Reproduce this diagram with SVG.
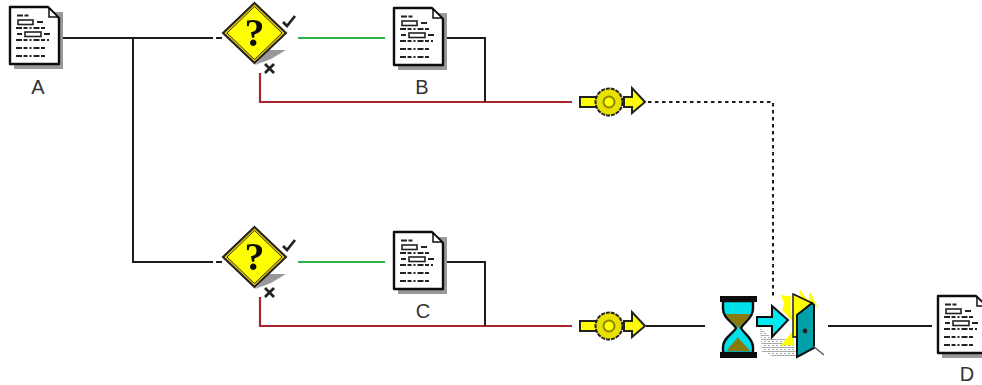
<svg xmlns="http://www.w3.org/2000/svg" width="982" height="385" viewBox="0 0 982 385">
<style>
.k{fill:none;stroke:#1c1c1c;stroke-width:2}
.g{fill:none;stroke:#2fb344;stroke-width:2}
.r{fill:none;stroke:#a8262c;stroke-width:2.200}
.d{fill:none;stroke:#1c1c1c;stroke-width:2;stroke-dasharray:3.500 3.500}
.l{font-family:"Liberation Sans",Arial,sans-serif;font-size:20px;fill:#333;text-anchor:middle}
.o{stroke:#111;stroke-width:2.400;stroke-linejoin:round}
.t{fill:none;stroke:#222;stroke-width:1.600}
.td{fill:none;stroke:#222;stroke-width:2;stroke-dasharray:6 1.500 4 2 2 2}
.soft{filter:url(#soft)}
</style>
<defs>
<filter id="soft" x="-5%" y="-5%" width="110%" height="110%"><feGaussianBlur stdDeviation="0.400"/></filter>
<pattern id="hatch" width="4" height="4" patternUnits="userSpaceOnUse">
<rect width="4" height="4" fill="#fff"/>
<path d="M0 3.500H4M0 1.500H2" stroke="#aaa" stroke-width="1.200"/>
</pattern>
<symbol id="doc" width="56" height="66" viewBox="0 0 56 66" overflow="visible">
<path d="M4 5H53V62H4Z" fill="#999"/>
<path d="M0 0H38L49 11V57H0Z" fill="#fff" class="o"/>
<path d="M39 1V10H48L39 1Z" fill="#fff" stroke="#111" stroke-width="1.500"/>
<path class="td" d="M7 8.500H20M6 21H36M6 33H39M6 41H36M6 49H36"/>
<path class="td" d="M27 15H34M7 27H12M34 27H41"/>
<rect x="8" y="13" width="15" height="4.500" fill="#fff" class="t"/>
<rect x="15" y="25" width="16" height="4.500" fill="#fff" class="t"/>
</symbol>
<symbol id="dia" width="72" height="78" viewBox="0 0 72 78" overflow="visible">
<path d="M32 62L46 47H63L48 56Z" fill="#999"/>
<path d="M31.500 0L63 30L31.500 60L0 30Z" fill="#e8c80a" stroke="#222" stroke-width="2"/>
<path d="M31.500 3.500L59 30L31.500 56.500L4 30Z" fill="#ffff00" stroke="#333" stroke-width="1"/>
<text x="31.500" y="43" font-family="Liberation Serif,serif" font-size="40" font-weight="bold" text-anchor="middle" fill="#111">?</text>
<path d="M60 19L64 23L72 13" fill="none" stroke="#222" stroke-width="2.800"/>
<path d="M42 61L51 70M51 61L42 70" fill="none" stroke="#222" stroke-width="2.800"/>
</symbol>
<symbol id="tok" width="66" height="30" viewBox="0 0 66 30" overflow="visible">
<path d="M0 10H22V20H0Z" fill="#ffff00" stroke="#222" stroke-width="2"/>
<path d="M44 10H52V1L65 15L52 26V20H44Z" fill="#ffff00" stroke="#222" stroke-width="2"/>
<circle cx="29" cy="15" r="13.500" fill="#e8e000" stroke="#222" stroke-width="2" stroke-dasharray="4 1"/>
<circle cx="29" cy="15" r="5.500" fill="#ffff00" stroke="#8a8400" stroke-width="2"/>
</symbol>
</defs>
<g id="connectors">
<path class="k" d="M62 38H213M216 38H222M133 38V262H213M216 262H222"/>
<path class="g" d="M298 38H385"/>
<path class="g" d="M298 262H385"/>
<path class="r" d="M260 73V102H572"/>
<path class="r" d="M260 297V326H572"/>
<path class="k" d="M447 38H485V102M447 262H485V326"/>
<path class="d" d="M648 102H773V296"/>
<path class="k" d="M646 326H705"/>
<path class="k" d="M828 326H932"/>
</g>
<g id="node-a"><use class="soft" href="#doc" x="10" y="7"/><text class="l" x="38" y="94">A</text></g>
<g id="node-b"><use class="soft" href="#doc" x="394" y="8"/><text class="l" x="422" y="94">B</text></g>
<g id="node-c"><use class="soft" href="#doc" x="394" y="232"/><text class="l" x="423" y="318">C</text></g>
<g id="node-d"><use class="soft" href="#doc" x="938" y="296"/><text class="l" x="967" y="381">D</text></g>
<g id="decision-1"><use class="soft" href="#dia" x="223" y="3"/></g>
<g id="decision-2"><use class="soft" href="#dia" x="223" y="227"/></g>
<g id="token-1"><use class="soft" href="#tok" x="580" y="87"/></g>
<g id="token-2"><use class="soft" href="#tok" x="580" y="311"/></g>
<g id="timer" class="soft">
<path d="M723 301H753V309C753 318 744 322 741 328C744 334 753 338 753 347V353H723V347C723 338 733 334 736 328C733 322 723 318 723 309Z" fill="#00e0e8" stroke="#111" stroke-width="2.400"/>
<path d="M726 314H750C748 320 742 323 738.500 328C735 323 728 320 726 314Z" fill="#8a7a10"/>
<path d="M727 351C731 344 735 342 738 337C741 342 746 345 750 351Z" fill="#8a7a10"/>
<rect x="720" y="296" width="37" height="6" fill="#111"/>
<rect x="720" y="352" width="37" height="6" fill="#111"/>
</g>
<g id="door" class="soft">
<path d="M760 328L772 338L793 340L797 357L775 357L762 352Z" fill="url(#hatch)"/>
<path d="M757 317H772V306L788 320L772 337V326H757Z" fill="#00e8f0" stroke="#111" stroke-width="2"/>
<path d="M782 296L790 297L790 318ZM785 303L793 320L783 310ZM782 345L793 332L793 345L787 344ZM800 291L806 299L802 298ZM810 293L816 306L810 302Z" fill="#ffff00" stroke="#ffff00" stroke-width="1.500"/>
<path d="M793 294L812 303L797 315V337L793 337Z" fill="#ffff00" stroke="#111" stroke-width="1.400"/>
<path d="M797 315L812 303L814 305V348L797 357Z" fill="#00a0a8" stroke="#111" stroke-width="2"/>
<circle cx="805" cy="331" r="2.400" fill="#222"/>
<path d="M813 346L824 355" stroke="#555" stroke-width="1.400"/>
</g>
</svg>
